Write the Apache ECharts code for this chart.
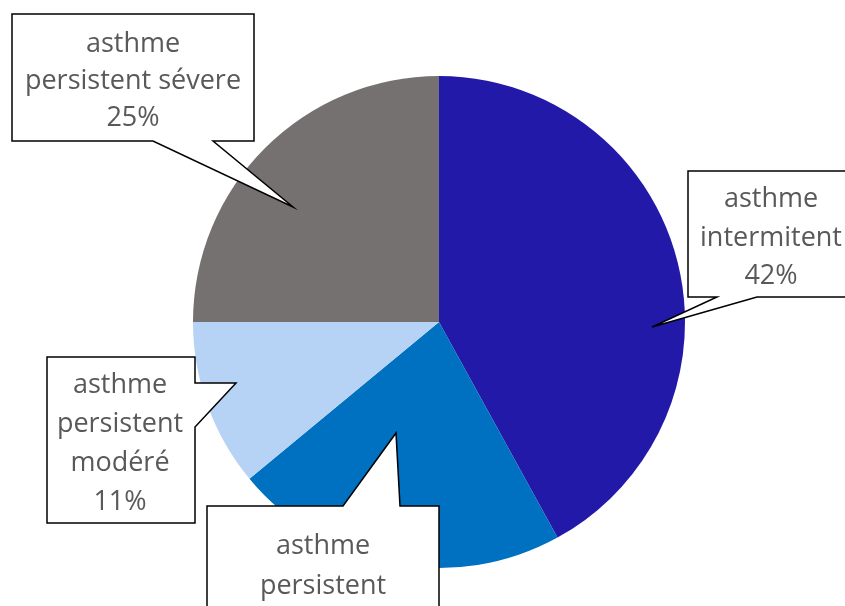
<!DOCTYPE html>
<html>
<head>
<meta charset="utf-8">
<script src="https://cdn.jsdelivr.net/npm/echarts@6/dist/echarts.min.js"></script>
<style>
  html, body { margin: 0; padding: 0; background: #fff; }
  #chart { width: 845px; height: 606px; }
</style>
</head>
<body>
<div id="chart"></div>
<script>
// Répartition des niveaux de sévérité de l'asthme
const categories = [
  'asthme\nintermitent',
  'asthme\npersistent\nléger',
  'asthme\npersistent\nmodéré',
  'asthme\npersistent sévere'
];
const values = [42, 22, 11, 25];
const colors = ['#2219A8', '#0070C0', '#B6D3F6', '#767171'];

// Callout boxes: rectangle, the side carrying the pointer, pointer base and tip
const callouts = [
  { box: [688, 171, 168, 126], side: 'bottom', base: [717, 757], tip: [652, 327], cx: 771, lh: 38.5 },
  { box: [207, 506, 232, 180], side: 'top',    base: [343, 400], tip: [396, 433], cx: 323, lh: 40 },
  { box: [47, 357, 148, 166],  side: 'right',  base: [383, 427], tip: [236, 383], cx: 120, lh: 39 },
  { box: [12, 14, 242, 127],   side: 'bottom', base: [153, 213], tip: [293, 207], cx: 133, lh: 37 }
];

function calloutPoints(c) {
  const [x, y, w, h] = c.box;
  const x2 = x + w, y2 = y + h;
  const [a, b] = c.base;
  if (c.side === 'bottom') {
    return [[x, y], [x2, y], [x2, y2], [b, y2], c.tip, [a, y2], [x, y2]];
  }
  if (c.side === 'top') {
    return [[x, y], [a, y], c.tip, [b, y], [x2, y], [x2, y2], [x, y2]];
  }
  // right side
  return [[x, y], [x2, y], [x2, a], c.tip, [x2, b], [x2, y2], [x, y2]];
}

const graphics = [];
callouts.forEach((c, i) => {
  const text = categories[i] + '\n' + values[i] + '%';
  const nLines = text.split('\n').length;
  const midY = c.box[1] + c.box[3] / 2;
  graphics.push({
    type: 'polygon',
    z: 10,
    shape: { points: calloutPoints(c) },
    style: { fill: '#ffffff', stroke: '#000000', lineWidth: 1.5, lineJoin: 'miter' }
  });
  graphics.push({
    type: 'text',
    z: 11,
    x: c.cx,
    y: ((i === 1) ? 542 - c.lh / 2 : midY - (nLines * c.lh) / 2) + 4,
    style: {
      text: text,
      fill: '#595959',
      font: '27px "Open Sans", sans-serif',
      lineHeight: c.lh,
      align: 'center',
      verticalAlign: 'top'
    }
  });
});

const chart = echarts.init(document.getElementById('chart'), null, { renderer: 'canvas' });
chart.setOption({
  animation: false,
  backgroundColor: '#ffffff',
  series: [{
    type: 'pie',
    z: 1,
    center: [439, 322],
    radius: 246,
    startAngle: 90,
    clockwise: true,
    label: { show: false },
    labelLine: { show: false },
    emphasis: { disabled: true },
    itemStyle: { borderWidth: 0 },
    data: categories.map((name, i) => ({
      name: name,
      value: values[i],
      itemStyle: { color: colors[i] }
    }))
  }],
  graphic: graphics
});
</script>
</body>
</html>
